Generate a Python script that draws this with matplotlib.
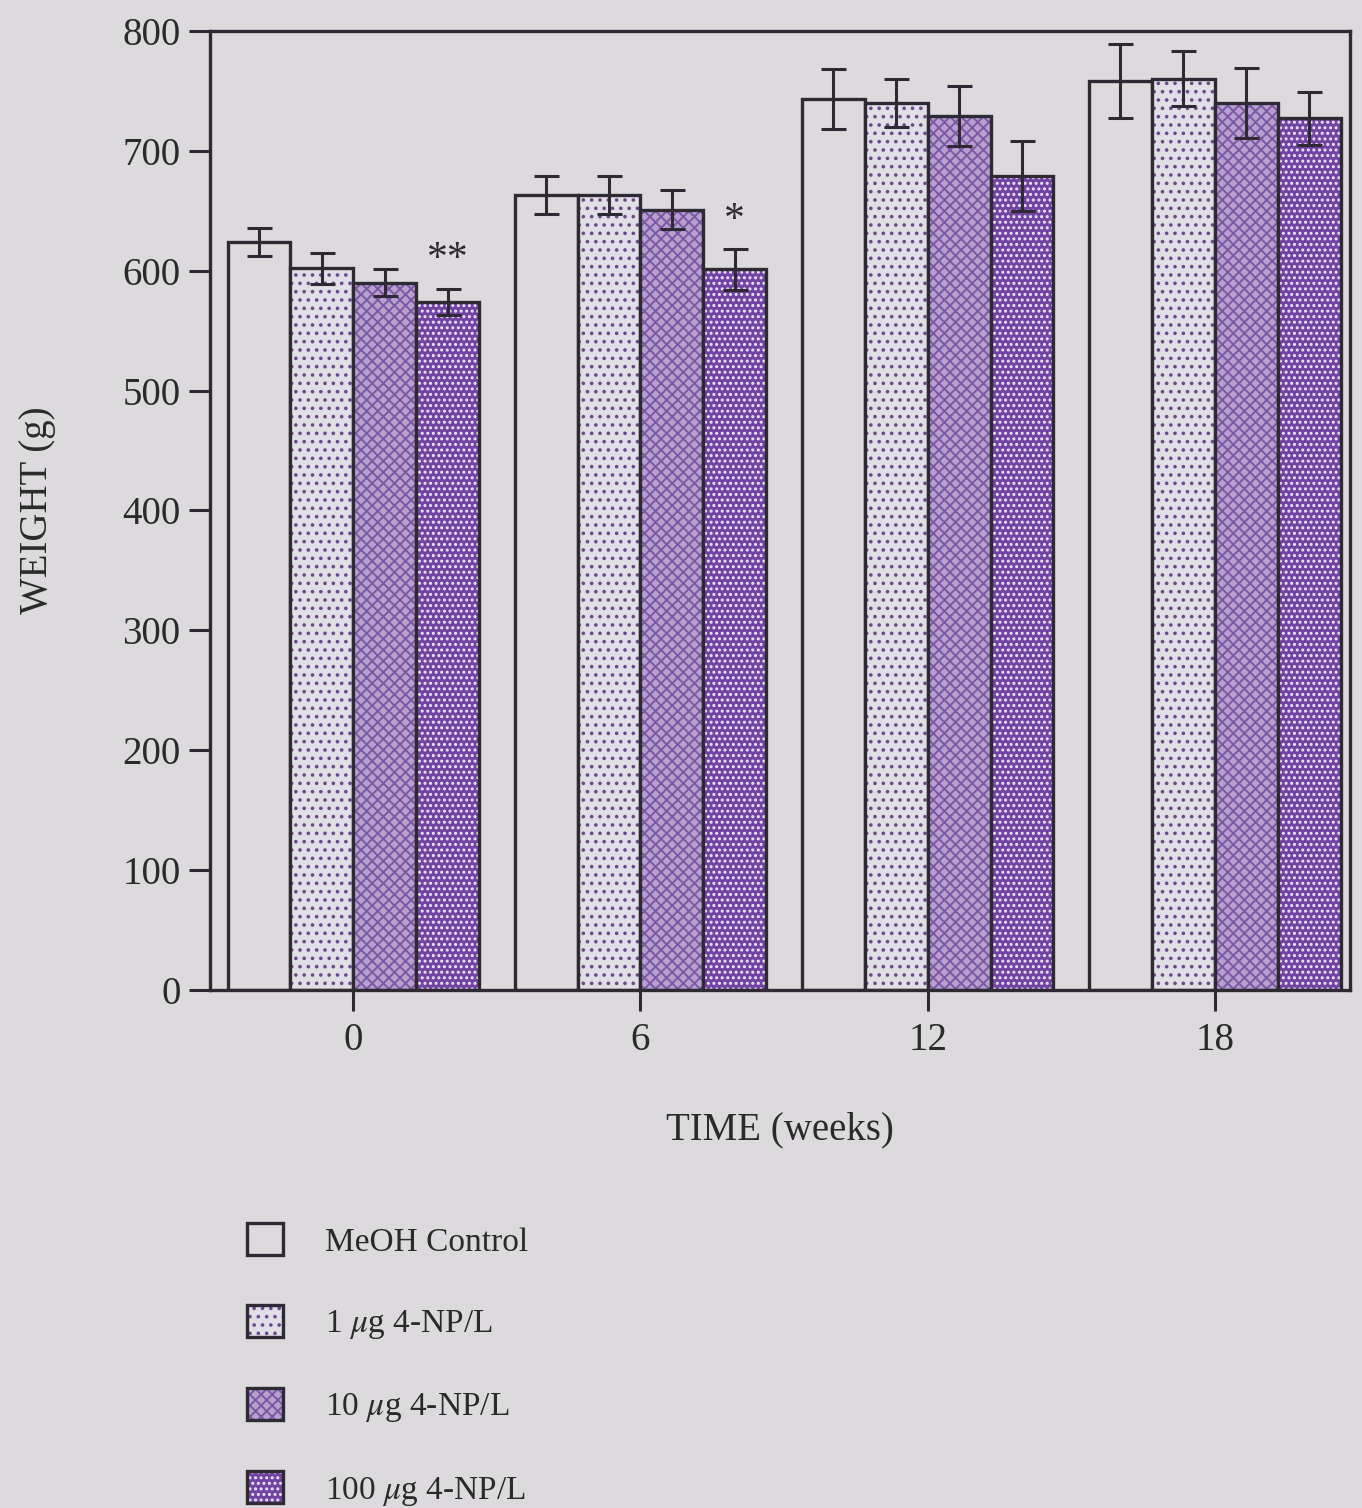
import matplotlib.pyplot as plt
import numpy as np
from matplotlib.patches import Patch

weeks = ["0", "6", "12", "18"]
groups = ["MeOH Control", "1 $\\mu$g 4-NP/L", "10 $\\mu$g 4-NP/L", "100 $\\mu$g 4-NP/L"]
control = [624, 663, 743, 758]
np1 = [602, 663, 740, 760]
np10 = [590, 651, 729, 740]
np100 = [574, 601, 679, 727]
control_err = [12, 16, 25, 31]
np1_err = [13, 16, 20, 23]
np10_err = [11, 16, 25, 29]
np100_err = [11, 17, 29, 22]
stars = {0: "**", 1: "*"}  # week index -> marker on 100 ug bar

bg = "#dcdadd"
faces = [bg, "#e2dee5", "#b7a0cd", "#7143a3"]
hatch_cols = [bg, "#6a4a8c", "#7c58a5", "#efe6f5"]
hatches = [None, "..", "xxx", "..."]

plt.rcParams["font.family"] = ["Liberation Serif", "DejaVu Serif"]
plt.rcParams["mathtext.fontset"] = "stix"
plt.rcParams["hatch.linewidth"] = 1.4

fig = plt.figure(figsize=(13.62, 15.08), dpi=100, facecolor=bg)
ax = fig.add_axes([0.154, 0.3435, 0.837, 0.636])
ax.set_facecolor(bg)

x = np.arange(len(weeks))
w = 0.219
series = [control, np1, np10, np100]
errs = [control_err, np1_err, np10_err, np100_err]
edge = "#2e2a33"

for i, (vals, err) in enumerate(zip(series, errs)):
    pos = x + (i - 1.5) * w
    ax.bar(pos, vals, w, color=faces[i], edgecolor=hatch_cols[i], hatch=hatches[i], linewidth=0)
    ax.bar(pos, vals, w, fill=False, edgecolor=edge, linewidth=2.4)
    ax.errorbar(pos, vals, yerr=err, fmt="none", ecolor=edge, elinewidth=2.2,
                capsize=9, capthick=2.2)

for k, s in stars.items():
    ax.text(x[k] + 1.5 * w, np100[k] + np100_err[k] + 8, s, ha="center", va="bottom",
            fontsize=30, color=edge)

ax.set_xlim(-0.5, 3.47)
ax.set_ylim(0, 800)
ax.set_yticks(np.arange(0, 801, 100))
ax.set_xticks(x)
ax.set_xticklabels(weeks)
ax.tick_params(axis="both", direction="out", length=15, width=2.2, colors=edge,
               labelsize=28, pad=6, labelcolor="#2a2a2a")
ax.tick_params(axis="x", pad=8)
for sp in ax.spines.values():
    sp.set_linewidth(2.4)
    sp.set_color(edge)

ax.set_xlabel("TIME (weeks)", fontsize=28, labelpad=38, color="#2a2a2a")
ax.set_ylabel("WEIGHT (g)", fontsize=28, labelpad=48, color="#2a2a2a")

handles = []
for i in range(4):
    h1 = Patch(facecolor=faces[i], edgecolor=hatch_cols[i], hatch=hatches[i], linewidth=0)
    h2 = Patch(fill=False, edgecolor=edge, linewidth=2.4)
    handles.append((h1, h2))

fig.legend(handles, groups, loc="upper left", bbox_to_anchor=(0.159, 0.2086),
           frameon=False, fontsize=24, handlelength=1.1, handleheight=1.1,
           labelspacing=1.41, handletextpad=1.25, labelcolor="#2a2a2a")

fig.savefig("out.png", dpi=100, facecolor=bg)
